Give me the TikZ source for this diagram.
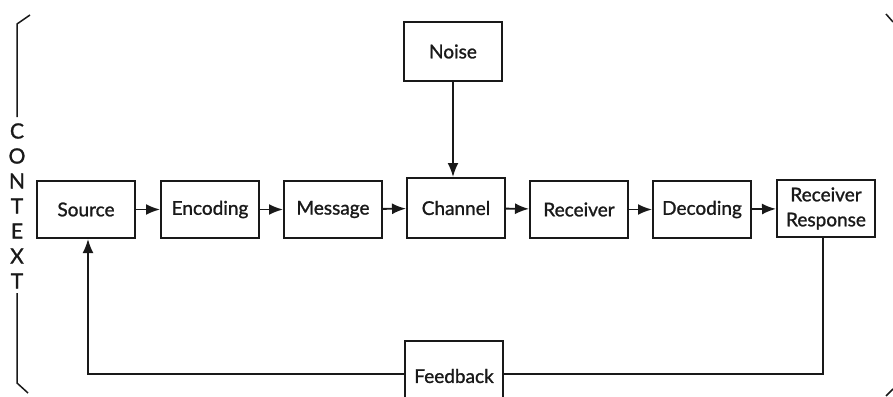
\documentclass[tikz,border=0pt]{standalone}
\usepackage{fontspec}
\setmainfont{Lato}
\newfontfamily\lblfont{Lato}[FakeBold=1.2]
\usetikzlibrary{arrows.meta}
\begin{document}
\begin{tikzpicture}[x=1pt,y=-1pt,
  blk/.style={draw=black!90,line width=2pt,minimum width=98pt,minimum height=57pt,inner sep=0pt,
    font=\lblfont\fontsize{19}{25}\selectfont,text=black!90,align=center},
  conn/.style={draw=black!90,line width=1.8pt},
  arr/.style={conn,-{Latex[length=14pt,width=11pt]}},
  ctx/.style={font=\lblfont\fontsize{21}{21}\selectfont,text=black!90}]
\useasboundingbox (0,0) rectangle (893,396);
\node[blk] (src) at (86,209.5) {Source};
\node[blk] (enc) at (210,209.5) {Encoding};
\node[blk] (msg) at (333,209.5) {Message};
\node[blk,minimum height=60pt] (chn) at (456,208) {Channel};
\node[blk] (rcv) at (579,209.5) {Receiver};
\node[blk] (dec) at (702,209.5) {Decoding};
\node[blk] (rsp) at (826,208.5) {Receiver\\Response};
\node[blk,minimum height=59pt] (noi) at (453,51.5) {Noise};
\node[blk,minimum height=70pt] (fbk) at (454,376) {Feedback};
\draw[arr] (src) -- (enc);
\draw[arr] (enc) -- (msg);
\draw[arr] (msg) -- (chn);
\draw[arr] (chn) -- (rcv);
\draw[arr] (rcv) -- (dec);
\draw[arr] (dec) -- (rsp);
\draw[arr] (noi) -- (noi|-chn.north);
\coordinate (fr) at (823,374);
\coordinate (fl) at (88,374);
\draw[conn] (rsp.south-|fr) -- (fr) -- (fbk.east|-fr);
\draw[arr] (fbk.west|-fl) -- (fl) -- (fl|-src.south);
% context bracket
\draw[conn,line width=1.5pt] (30,15) -- (17,24) -- (17,117);
\draw[conn,line width=1.5pt] (17,293) -- (17,383) -- (28,393);
\node[ctx] (c1) at (17,131) {C};
\node[ctx] (c2) at (17,156) {O};
\node[ctx] (c3) at (17,181) {N};
\node[ctx] (c4) at (17,206) {T};
\node[ctx] (c5) at (17,231) {E};
\node[ctx] (c6) at (17,256) {X};
\node[ctx] (c7) at (17,281) {T};
\draw[conn,line width=1.5pt] (886,14) -- (893,22);
\draw[conn,line width=1.5pt] (886,396) -- (893,389);
\end{tikzpicture}
\end{document}
